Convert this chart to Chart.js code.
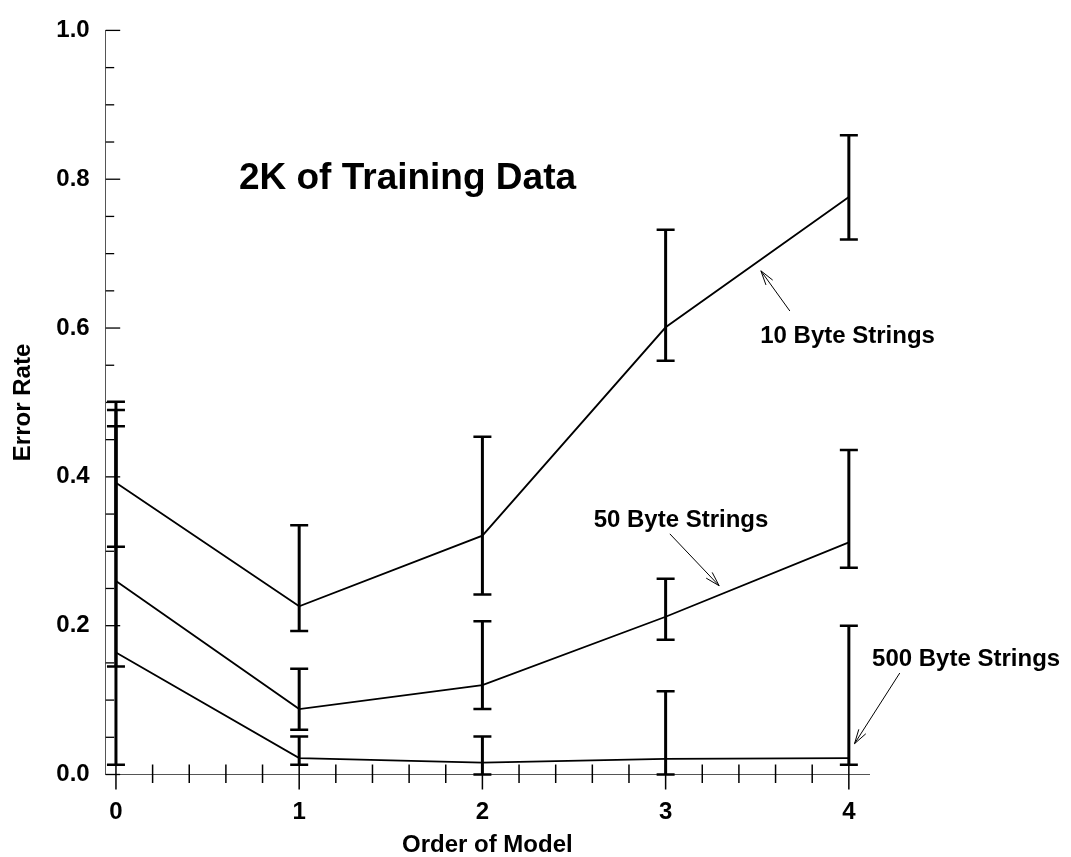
<!DOCTYPE html>
<html>
<head>
<meta charset="utf-8">
<script src="https://cdn.jsdelivr.net/npm/chart.js@4.4.1/dist/chart.umd.min.js"></script>
<style>
  html, body { margin: 0; padding: 0; background: #ffffff; }
  #c { display: block; }
</style>
</head>
<body>
<canvas id="c" width="1071" height="857"></canvas>
<script>
// ---------- data ----------
const orders = [0, 1, 2, 3, 4];

const err10  = [0.392, 0.226, 0.321, 0.601, 0.776];
const low10  = [0.306, 0.193, 0.242, 0.556, 0.719];
const high10 = [0.501, 0.335, 0.454, 0.732, 0.859];

const err50  = [0.260, 0.088, 0.120, 0.212, 0.312];
const low50  = [0.145, 0.060, 0.088, 0.181, 0.278];
const high50 = [0.468, 0.142, 0.206, 0.263, 0.436];

const err500  = [0.164, 0.022, 0.016, 0.021, 0.022];
const low500  = [0.013, 0.013, 0.000, 0.000, 0.013];
const high500 = [0.490, 0.051, 0.051, 0.112, 0.200];

const xTicks = [0, 1, 2, 3, 4];
const xTickLabels = ['0', '1', '2', '3', '4'];
const yTicks = [0, 0.2, 0.4, 0.6, 0.8, 1.0];
const yTickLabels = ['0.0', '0.2', '0.4', '0.6', '0.8', '1.0'];

const chartTitle = '2K of Training Data';
const xTitle = 'Order of Model';
const yTitle = 'Error Rate';

// annotation labels (data coordinates) and arrows
const notes = [
  { text: '10 Byte Strings',  x: 3.993, y: 0.580, tail: [3.678, 0.6229], head: [3.520, 0.6769] },
  { text: '50 Byte Strings',  x: 3.084, y: 0.3324, tail: [3.023, 0.3234], head: [3.292, 0.2537] },
  { text: '500 Byte Strings', x: 4.640, y: 0.1453, tail: [4.278, 0.1364], head: [4.031, 0.0414] }
];
const titlePos = { x: 1.591, y: 0.7865 };

// ---------- styles ----------
const FAMILY = "'Liberation Sans', Arial, Helvetica, sans-serif";
const tickFont = { family: FAMILY, size: 24, weight: 'bold' };
const axisTitleFont = { family: FAMILY, size: 24, weight: 'bold' };

function series(vals) {
  return orders.map((o, i) => ({ x: o, y: vals[i] }));
}

const errorSets = [
  { low: low10, high: high10 },
  { low: low50, high: high50 },
  { low: low500, high: high500 }
];

const decor = {
  id: 'decor',
  afterDraw(chart) {
    const ctx = chart.ctx;
    const xs = chart.scales.x, ys = chart.scales.y;
    const area = chart.chartArea;
    ctx.save();
    ctx.strokeStyle = '#000';
    ctx.fillStyle = '#000';

    // x ticks (major and minor), crossing the axis
    const axisY = area.bottom;
    ctx.lineWidth = 1.5;
    for (let k = 0; k <= 20; k++) {
      const v = k * 0.2;
      const px = xs.getPixelForValue(v);
      const major = xTicks.some(t => Math.abs(t - v) < 1e-6);
      ctx.beginPath();
      ctx.moveTo(px, axisY - 10);
      ctx.lineTo(px, axisY + (major ? 15 : 8.5));
      ctx.stroke();
    }
    // y ticks, pointing inward
    const axisX = area.left;
    ctx.lineWidth = 1.3;
    for (let k = 0; k <= 20; k++) {
      const v = k * 0.05;
      const py = ys.getPixelForValue(v);
      const major = yTicks.some(t => Math.abs(t - v) < 1e-6);
      ctx.beginPath();
      ctx.moveTo(axisX, py);
      ctx.lineTo(axisX + (major ? 14.5 : 8.5), py);
      ctx.stroke();
    }

    // error bars
    errorSets.forEach(es => {
      orders.forEach((o, i) => {
        const px = xs.getPixelForValue(o);
        const pLow = ys.getPixelForValue(es.low[i]);
        const pHigh = ys.getPixelForValue(es.high[i]);
        ctx.lineWidth = 3;
        ctx.beginPath();
        ctx.moveTo(px, pLow);
        ctx.lineTo(px, pHigh);
        ctx.stroke();
        ctx.lineWidth = 2.5;
        ctx.beginPath();
        ctx.moveTo(px - 9, pLow); ctx.lineTo(px + 9, pLow);
        ctx.moveTo(px - 9, pHigh); ctx.lineTo(px + 9, pHigh);
        ctx.stroke();
      });
    });

    // chart title
    ctx.font = "bold 37px " + FAMILY;
    ctx.textAlign = 'center';
    ctx.textBaseline = 'alphabetic';
    ctx.fillText(chartTitle, xs.getPixelForValue(titlePos.x), ys.getPixelForValue(titlePos.y));

    // annotations
    ctx.font = "bold 24px " + FAMILY;
    notes.forEach(n => {
      ctx.fillText(n.text, xs.getPixelForValue(n.x), ys.getPixelForValue(n.y));
      const tx = xs.getPixelForValue(n.tail[0]), ty = ys.getPixelForValue(n.tail[1]);
      const hx = xs.getPixelForValue(n.head[0]), hy = ys.getPixelForValue(n.head[1]);
      ctx.lineWidth = 1;
      ctx.beginPath();
      ctx.moveTo(tx, ty);
      ctx.lineTo(hx, hy);
      ctx.stroke();
      const ang = Math.atan2(ty - hy, tx - hx);
      const len = 15, spread = 0.28;
      ctx.beginPath();
      ctx.moveTo(hx + len * Math.cos(ang - spread), hy + len * Math.sin(ang - spread));
      ctx.lineTo(hx, hy);
      ctx.lineTo(hx + len * Math.cos(ang + spread), hy + len * Math.sin(ang + spread));
      ctx.stroke();
    });
    ctx.restore();
  }
};

const lineStyle = { borderColor: '#000', borderWidth: 1.8, pointRadius: 0, tension: 0, fill: false };

new Chart(document.getElementById('c'), {
  type: 'line',
  data: {
    datasets: [
      Object.assign({ label: '10 Byte Strings', data: series(err10) }, lineStyle),
      Object.assign({ label: '50 Byte Strings', data: series(err50) }, lineStyle),
      Object.assign({ label: '500 Byte Strings', data: series(err500) }, lineStyle)
    ]
  },
  options: {
    responsive: false,
    animation: false,
    devicePixelRatio: 1,
    layout: { padding: { top: 20.7, right: 202, left: 0, bottom: 0 } },
    plugins: { legend: { display: false }, tooltip: { enabled: false } },
    scales: {
      x: {
        type: 'linear',
        min: -0.056,
        max: 4.11,
        grid: { display: false, drawTicks: false },
        border: { display: true, color: '#555', width: 1 },
        afterBuildTicks: s => { s.ticks = xTicks.map(v => ({ value: v })); },
        afterFit: s => { s.height = 82.5; },
        ticks: {
          autoSkip: false, maxRotation: 0, padding: 23, color: '#000', font: tickFont,
          callback: (v) => xTickLabels[xTicks.indexOf(v)]
        },
        title: { display: true, text: xTitle, color: '#000', font: axisTitleFont, padding: { top: 0, bottom: -3 } }
      },
      y: {
        type: 'linear',
        min: 0,
        max: 1.0,
        grid: { display: false, drawTicks: false },
        border: { display: true, color: '#555', width: 1 },
        afterBuildTicks: s => { s.ticks = yTicks.map(v => ({ value: v })); },
        afterFit: s => { s.width = 105.7; },
        ticks: {
          autoSkip: false, padding: 16, color: '#000', font: tickFont,
          callback: (v) => yTickLabels[yTicks.indexOf(v)]
        },
        title: { display: true, text: yTitle, color: '#000', font: axisTitleFont, padding: { top: 9, bottom: 0 } }
      }
    }
  },
  plugins: [decor]
});
</script>
</body>
</html>
